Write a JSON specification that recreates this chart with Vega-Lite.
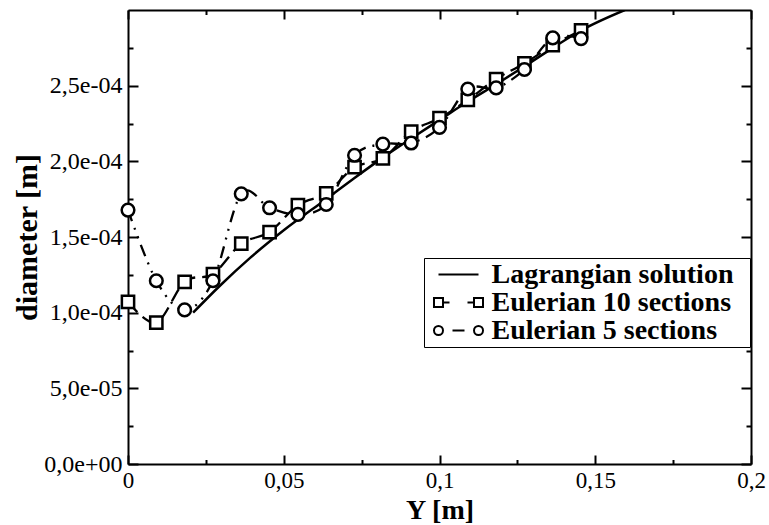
{
  "$schema": "https://vega.github.io/schema/vega-lite/v6.json",
  "width": 623,
  "height": 454,
  "autosize": {"type": "none"},
  "padding": {"left": 128, "top": 10, "right": 18, "bottom": 61},
  "background": "white",
  "config": {
    "font": "Liberation Serif",
    "view": {"stroke": null},
    "axis": {
      "grid": false,
      "domainColor": "black",
      "domainWidth": 2,
      "tickColor": "black",
      "tickWidth": 2,
      "labelFont": "Liberation Serif",
      "labelFontSize": 23,
      "labelColor": "black",
      "labelFlush": false,
      "labelOverlap": false,
      "titleFont": "Liberation Serif",
      "titleFontSize": 28,
      "titleFontWeight": "bold",
      "titleColor": "black"
    }
  },
  "datasets": {
    "d": [
      {"s": "Lagrangian solution", "x": 0.0209, "y": 1.0e-4},
      {"s": "Lagrangian solution", "x": 0.0295, "y": 1.178e-4},
      {"s": "Lagrangian solution", "x": 0.0392, "y": 1.362e-4},
      {"s": "Lagrangian solution", "x": 0.0501, "y": 1.546e-4},
      {"s": "Lagrangian solution", "x": 0.0636, "y": 1.750e-4},
      {"s": "Lagrangian solution", "x": 0.0726, "y": 1.888e-4},
      {"s": "Lagrangian solution", "x": 0.0819, "y": 2.026e-4},
      {"s": "Lagrangian solution", "x": 0.0909, "y": 2.151e-4},
      {"s": "Lagrangian solution", "x": 0.1002, "y": 2.276e-4},
      {"s": "Lagrangian solution", "x": 0.1091, "y": 2.395e-4},
      {"s": "Lagrangian solution", "x": 0.1185, "y": 2.513e-4},
      {"s": "Lagrangian solution", "x": 0.1271, "y": 2.625e-4},
      {"s": "Lagrangian solution", "x": 0.1364, "y": 2.750e-4},
      {"s": "Lagrangian solution", "x": 0.1457, "y": 2.868e-4},
      {"s": "Lagrangian solution", "x": 0.1595, "y": 3.0e-4},
      {"s": "Eulerian 10 sections", "x": 0, "y": 1.072e-4},
      {"s": "Eulerian 10 sections", "x": 0.00909, "y": 0.935e-4},
      {"s": "Eulerian 10 sections", "x": 0.01818, "y": 1.204e-4},
      {"s": "Eulerian 10 sections", "x": 0.02727, "y": 1.255e-4},
      {"s": "Eulerian 10 sections", "x": 0.03636, "y": 1.456e-4},
      {"s": "Eulerian 10 sections", "x": 0.04545, "y": 1.533e-4},
      {"s": "Eulerian 10 sections", "x": 0.05455, "y": 1.711e-4},
      {"s": "Eulerian 10 sections", "x": 0.06364, "y": 1.789e-4},
      {"s": "Eulerian 10 sections", "x": 0.07273, "y": 1.961e-4},
      {"s": "Eulerian 10 sections", "x": 0.08182, "y": 2.020e-4},
      {"s": "Eulerian 10 sections", "x": 0.09091, "y": 2.197e-4},
      {"s": "Eulerian 10 sections", "x": 0.1, "y": 2.285e-4},
      {"s": "Eulerian 10 sections", "x": 0.10909, "y": 2.406e-4},
      {"s": "Eulerian 10 sections", "x": 0.11818, "y": 2.544e-4},
      {"s": "Eulerian 10 sections", "x": 0.12727, "y": 2.647e-4},
      {"s": "Eulerian 10 sections", "x": 0.13636, "y": 2.768e-4},
      {"s": "Eulerian 10 sections", "x": 0.14545, "y": 2.866e-4},
      {"s": "Eulerian 5 sections", "x": 0, "y": 1.678e-4},
      {"s": "Eulerian 5 sections", "x": 0.00909, "y": 1.211e-4},
      {"s": "Eulerian 5 sections", "x": 0.01818, "y": 1.018e-4},
      {"s": "Eulerian 5 sections", "x": 0.02727, "y": 1.211e-4},
      {"s": "Eulerian 5 sections", "x": 0.03636, "y": 1.785e-4},
      {"s": "Eulerian 5 sections", "x": 0.04545, "y": 1.693e-4},
      {"s": "Eulerian 5 sections", "x": 0.05455, "y": 1.649e-4},
      {"s": "Eulerian 5 sections", "x": 0.06364, "y": 1.715e-4},
      {"s": "Eulerian 5 sections", "x": 0.07273, "y": 2.040e-4},
      {"s": "Eulerian 5 sections", "x": 0.08182, "y": 2.114e-4},
      {"s": "Eulerian 5 sections", "x": 0.09091, "y": 2.121e-4},
      {"s": "Eulerian 5 sections", "x": 0.1, "y": 2.224e-4},
      {"s": "Eulerian 5 sections", "x": 0.10909, "y": 2.478e-4},
      {"s": "Eulerian 5 sections", "x": 0.11818, "y": 2.485e-4},
      {"s": "Eulerian 5 sections", "x": 0.12727, "y": 2.607e-4},
      {"s": "Eulerian 5 sections", "x": 0.13636, "y": 2.816e-4},
      {"s": "Eulerian 5 sections", "x": 0.14545, "y": 2.811e-4}
    ]
  },
  "data": {"name": "d"},
  "resolve": {"axis": {"x": "independent", "y": "independent"}},
  "layer": [
    {
      "transform": [{"filter": "datum.s == 'Lagrangian solution'"}],
      "mark": {"type": "line", "color": "black", "strokeWidth": 2.5, "interpolate": "monotone", "clip": true},
      "encoding": {
        "x": {
          "field": "x", "type": "quantitative",
          "scale": {"domain": [0, 0.2], "nice": false, "zero": false},
          "axis": {
            "orient": "bottom",
            "title": "Y [m]",
            "values": [0, 0.025, 0.05, 0.075, 0.1, 0.125, 0.15, 0.175, 0.2],
            "labelExpr": "abs(datum.value*20 - round(datum.value*20)) < 1e-6 ? replace(format(datum.value, '~g'), '.', ',') : ''",
            "tickSize": {"condition": {"test": "abs(datum.value*20 - round(datum.value*20)) < 1e-6", "value": -9}, "value": -4.5},
            "labelPadding": 14,
            "titlePadding": 0
          }
        },
        "y": {
          "field": "y", "type": "quantitative",
          "scale": {"domain": [0, 0.0003], "nice": false, "zero": false},
          "axis": {
            "orient": "left",
            "title": "diameter [m]",
            "titleFontSize": 30,
            "values": [0, 0.000025, 0.00005, 0.000075, 0.0001, 0.000125, 0.00015, 0.000175, 0.0002, 0.000225, 0.00025, 0.000275],
            "labelExpr": "abs(datum.value*20000 - round(datum.value*20000)) < 1e-6 ? replace(replace(replace(format(datum.value, '.1e'), '.', ','), 'e-', 'e-0'), 'e+', 'e+0') : ''",
            "labelFontSize": 24,
            "tickSize": {"condition": {"test": "abs(datum.value*20000 - round(datum.value*20000)) < 1e-6", "value": -10}, "value": -5},
            "labelPadding": 16,
            "titlePadding": 1
          }
        }
      }
    },
    {
      "transform": [{"filter": "datum.s == 'Eulerian 10 sections'"}],
      "mark": {"type": "line", "color": "black", "strokeWidth": 2.3, "strokeDash": [14, 7], "interpolate": "cardinal", "clip": true},
      "encoding": {
        "x": {
          "field": "x", "type": "quantitative",
          "axis": {
            "orient": "top", "title": null, "labels": false,
            "values": [0, 0.025, 0.05, 0.075, 0.1, 0.125, 0.15, 0.175, 0.2],
            "tickSize": {"condition": {"test": "abs(datum.value*20 - round(datum.value*20)) < 1e-6", "value": -9}, "value": -4.5}
          }
        },
        "y": {
          "field": "y", "type": "quantitative",
          "axis": {
            "orient": "right", "title": null, "labels": false,
            "values": [0, 0.000025, 0.00005, 0.000075, 0.0001, 0.000125, 0.00015, 0.000175, 0.0002, 0.000225, 0.00025, 0.000275],
            "tickSize": {"condition": {"test": "abs(datum.value*20000 - round(datum.value*20000)) < 1e-6", "value": -10}, "value": -5}
          }
        }
      }
    },
    {
      "transform": [{"filter": "datum.s == 'Eulerian 5 sections'"}],
      "mark": {"type": "line", "color": "black", "strokeWidth": 2.3, "strokeDash": [12, 7, 2, 7, 2, 7], "interpolate": "cardinal", "clip": true},
      "encoding": {
        "x": {"field": "x", "type": "quantitative", "axis": null},
        "y": {"field": "y", "type": "quantitative", "axis": null}
      }
    },
    {
      "transform": [{"filter": "datum.s == 'Eulerian 10 sections'"}],
      "mark": {"type": "point", "shape": "square", "size": 150, "filled": true, "fill": "white", "stroke": "black", "strokeWidth": 2.5, "opacity": 1},
      "encoding": {
        "x": {"field": "x", "type": "quantitative", "axis": null},
        "y": {"field": "y", "type": "quantitative", "axis": null}
      }
    },
    {
      "transform": [{"filter": "datum.s == 'Eulerian 5 sections'"}],
      "mark": {"type": "point", "shape": "circle", "size": 160, "filled": true, "fill": "white", "stroke": "black", "strokeWidth": 2.5, "opacity": 1},
      "encoding": {
        "x": {"field": "x", "type": "quantitative", "axis": null},
        "y": {"field": "y", "type": "quantitative", "axis": null}
      }
    },
    {
      "mark": {"type": "point", "opacity": 0},
      "encoding": {
        "x": {"field": "x", "type": "quantitative", "axis": null},
        "y": {"field": "y", "type": "quantitative", "axis": null},
        "shape": {
          "field": "s", "type": "nominal",
          "scale": {
            "domain": ["Lagrangian solution", "Eulerian 10 sections", "Eulerian 5 sections"],
            "range": [
              "M-1.667,0H1.667",
              "M-2.042,-0.375H-1.292V0.375H-2.042Z M-1.292,0H-0.75 M0.75,0H1.292 M1.292,-0.375H2.042V0.375H1.292Z",
              "M-2.042,0A0.375,0.375 0 1,0 -1.292,0A0.375,0.375 0 1,0 -2.042,0Z M-0.5,0H0.5 M1.292,0A0.375,0.375 0 1,0 2.042,0A0.375,0.375 0 1,0 1.292,0Z"
            ]
          },
          "legend": {
            "orient": "none",
            "legendX": 296,
            "legendY": 248,
            "title": ".",
            "titleOrient": "right",
            "titleColor": "white",
            "titleFontSize": 4,
            "titlePadding": 13,
            "padding": 2.5,
            "rowPadding": 0,
            "symbolSize": 576,
            "symbolStrokeWidth": 2,
            "symbolStrokeColor": "black",
            "symbolFillColor": "white",
            "symbolOpacity": 1,
            "symbolOffset": 18,
            "labelOffset": 19,
            "labelFont": "Liberation Serif",
            "labelFontWeight": "bold",
            "labelFontSize": 28,
            "labelColor": "black",
            "labelLimit": 500,
            "strokeColor": "black",
            "fillColor": "white",
            "encode": {"legend": {"update": {"strokeWidth": {"value": 2}}}}
          }
        }
      }
    }
  ]
}
